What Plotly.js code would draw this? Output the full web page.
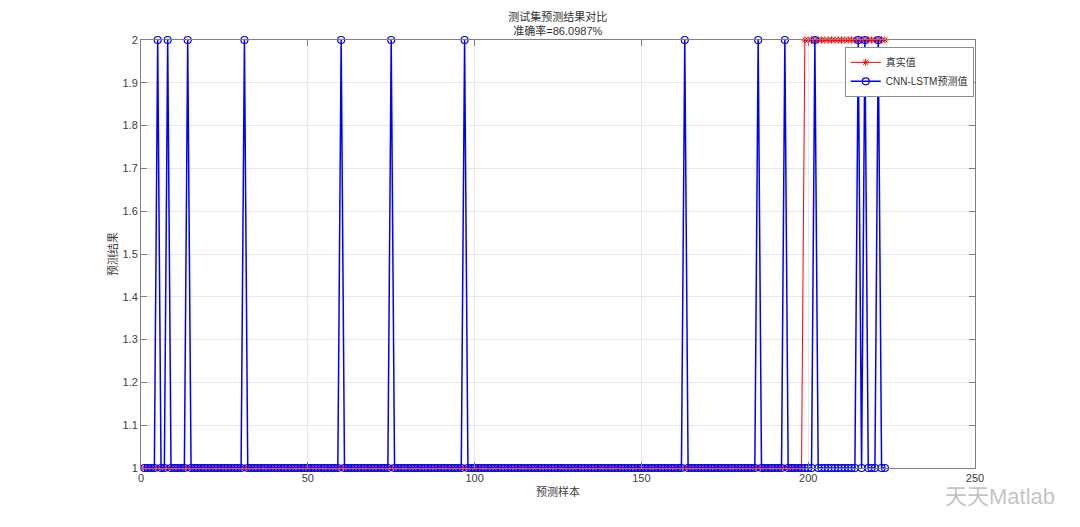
<!DOCTYPE html>
<html>
<head>
<meta charset="utf-8">
<script src="https://cdn.plot.ly/plotly-3.0.1.min.js"></script>
<style>html,body{margin:0;padding:0;background:#fff;}#chart{width:1080px;height:527px;}</style>
</head>
<body>
<div id="chart"></div>
<script>
// True class labels for the 223 test samples
const trueVals = [
  1,1,1,1,1,1,1,1,1,1,1,1,1,1,1,1,1,1,1,1,
  1,1,1,1,1,1,1,1,1,1,1,1,1,1,1,1,1,1,1,1,
  1,1,1,1,1,1,1,1,1,1,1,1,1,1,1,1,1,1,1,1,
  1,1,1,1,1,1,1,1,1,1,1,1,1,1,1,1,1,1,1,1,
  1,1,1,1,1,1,1,1,1,1,1,1,1,1,1,1,1,1,1,1,
  1,1,1,1,1,1,1,1,1,1,1,1,1,1,1,1,1,1,1,1,
  1,1,1,1,1,1,1,1,1,1,1,1,1,1,1,1,1,1,1,1,
  1,1,1,1,1,1,1,1,1,1,1,1,1,1,1,1,1,1,1,1,
  1,1,1,1,1,1,1,1,1,1,1,1,1,1,1,1,1,1,1,1,
  1,1,1,1,1,1,1,1,1,1,1,1,1,1,1,1,1,1,2,2,
  2,2,2,2,2,2,2,2,2,2,2,2,2,2,2,2,2,2,2,2,
  2,2,2
];
// CNN-LSTM predicted class labels
const predVals = [
  1,1,1,1,2,1,1,2,1,1,1,1,1,2,1,1,1,1,1,1,
  1,1,1,1,1,1,1,1,1,1,2,1,1,1,1,1,1,1,1,1,
  1,1,1,1,1,1,1,1,1,1,1,1,1,1,1,1,1,1,1,2,
  1,1,1,1,1,1,1,1,1,1,1,1,1,1,2,1,1,1,1,1,
  1,1,1,1,1,1,1,1,1,1,1,1,1,1,1,1,2,1,1,1,
  1,1,1,1,1,1,1,1,1,1,1,1,1,1,1,1,1,1,1,1,
  1,1,1,1,1,1,1,1,1,1,1,1,1,1,1,1,1,1,1,1,
  1,1,1,1,1,1,1,1,1,1,1,1,1,1,1,1,1,1,1,1,
  1,1,2,1,1,1,1,1,1,1,1,1,1,1,1,1,1,1,1,1,
  1,1,1,1,2,1,1,1,1,1,1,1,2,1,1,1,1,1,1,1,
  1,2,1,1,1,1,1,1,1,1,1,1,1,1,2,1,2,1,1,1,
  2,1,1
];
const sampleIdx = trueVals.map((_, i) => i + 1);
const titleLines = ['测试集预测结果对比', '准确率=86.0987%'];
const seriesNames = ['真实值', 'CNN-LSTM预测值'];
const xTitle = '预测样本';
const yTitle = '预测结果';
const watermark = '天天Matlab';

const fontFam = '"Liberation Sans", Arial, "Noto Sans CJK SC", sans-serif';

const traces = [
  {
    x: sampleIdx, y: trueVals, name: seriesNames[0], type: 'scatter', mode: 'lines+markers',
    line: {color: '#ff0000', width: 1},
    marker: {symbol: 'asterisk-open', size: 6, color: '#ff0000', line: {color: '#ff0000', width: 1}},
    cliponaxis: false
  },
  {
    x: sampleIdx, y: predVals, name: seriesNames[1], type: 'scatter', mode: 'lines+markers',
    line: {color: '#0000ff', width: 1.5},
    marker: {symbol: 'circle-open', size: 7, color: '#0000ff', line: {color: '#0000ff', width: 1.2}},
    cliponaxis: false
  }
];

const axisCommon = {
  showline: true, linecolor: '#808080', linewidth: 1, mirror: 'ticks',
  ticks: 'inside', ticklen: 6, tickcolor: '#808080', tickwidth: 1,
  showgrid: true, gridcolor: '#e8e8e8', gridwidth: 1, zeroline: false,
  tickfont: {family: fontFam, size: 11, color: '#404040'}
};

const layout = {
  width: 1080, height: 527,
  paper_bgcolor: '#ffffff', plot_bgcolor: '#ffffff',
  margin: {l: 141, r: 105, t: 40, b: 59},
  title: {
    text: titleLines.join('<br>'),
    font: {family: fontFam, size: 11, color: '#333333'},
    x: 0.5165, xref: 'container', xanchor: 'center',
    y: 0.96, yref: 'container', yanchor: 'top'
  },
  xaxis: Object.assign({}, axisCommon, {
    range: [0, 250], dtick: 50, tick0: 0
  }),
  yaxis: Object.assign({}, axisCommon, {
    range: [1, 2], dtick: 0.1, tick0: 1
  }),
  showlegend: true,
  legend: {
    x: 0.9985, y: 0.984, xanchor: 'right', yanchor: 'top',
    bgcolor: '#ffffff', bordercolor: '#8c8c8c', borderwidth: 1,
    font: {family: fontFam, size: 10, color: '#333333'},
    tracegroupgap: 0, itemwidth: 30
  },
  annotations: [
    {
      text: xTitle, xref: 'paper', yref: 'paper', x: 0.5, y: -0.056,
      xanchor: 'center', yanchor: 'middle', showarrow: false,
      font: {family: fontFam, size: 11, color: '#404040'}
    },
    {
      text: yTitle, xref: 'paper', yref: 'paper', x: -0.0336, y: 0.5,
      xanchor: 'center', yanchor: 'middle', textangle: -90, showarrow: false,
      font: {family: fontFam, size: 11, color: '#404040'}
    },
    {
      text: watermark, xref: 'paper', yref: 'paper',
      x: 1.03, y: -0.067, xanchor: 'center', yanchor: 'middle', showarrow: false,
      font: {family: fontFam, size: 22, color: 'rgba(170,170,170,0.7)'}
    }
  ]
};

Plotly.newPlot('chart', traces, layout, {displayModeBar: false, staticPlot: true});
</script>
</body>
</html>
